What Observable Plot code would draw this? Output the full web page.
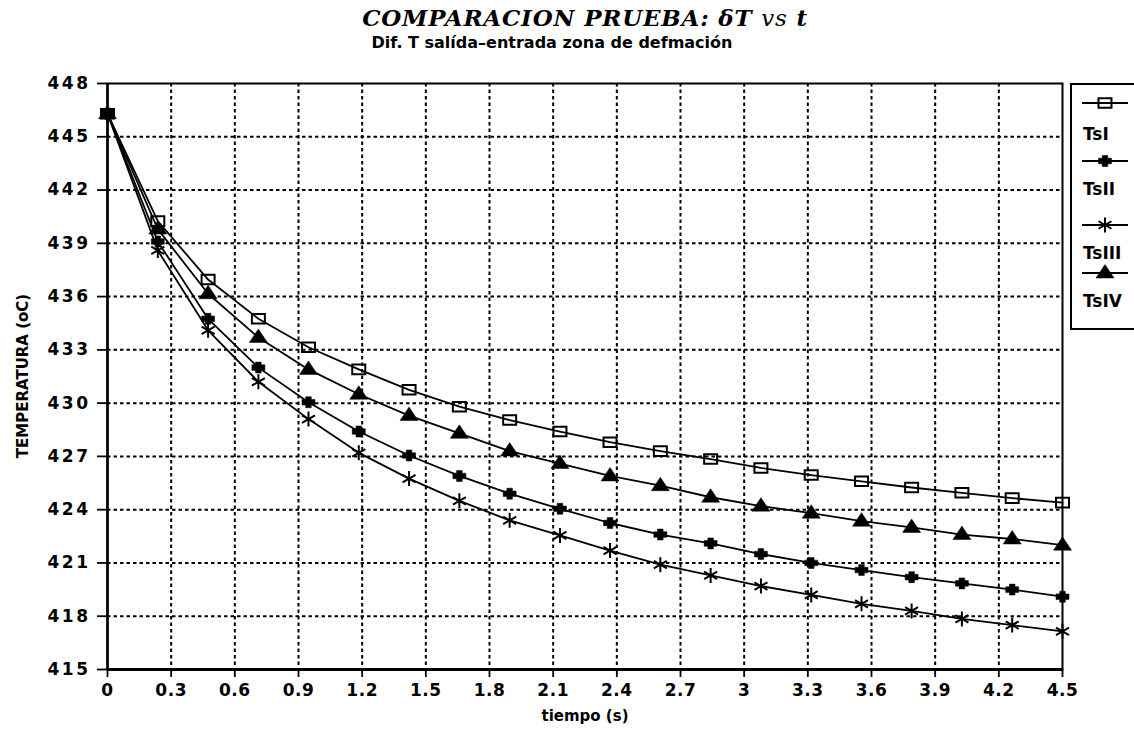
<!DOCTYPE html>
<html>
<head>
<meta charset="utf-8">
<script src="https://cdn.jsdelivr.net/npm/d3@7"></script>
<script src="https://cdn.jsdelivr.net/npm/@observablehq/plot@0.6"></script>
<style>
  body { margin: 0; background: #fff; }
  #wrap { position: relative; width: 1134px; height: 732px; overflow: hidden; background: #fff; }
  #title { position: absolute; left: 585px; top: 4px; transform: translateX(-50%); white-space: nowrap;
           font-family: "DejaVu Serif", "Liberation Serif", serif; font-weight: bold; font-style: italic;
           font-size: 23px; line-height: 27px; letter-spacing: 0.8px; color: #000; }
  #subtitle { position: absolute; left: 552px; top: 34px; transform: translateX(-50%); white-space: nowrap;
           font-family: "DejaVu Sans", sans-serif; font-weight: bold; font-size: 16px; line-height: 18px; color: #000; }
  #ylab { position: absolute; left: 23px; top: 376px; transform: translate(-50%, -50%) rotate(-90deg); white-space: nowrap;
           font-family: "DejaVu Sans", sans-serif; font-weight: bold; font-size: 15px; line-height: 17px; color: #000; }
  #xlab { position: absolute; left: 585px; top: 708px; transform: translateX(-50%); white-space: nowrap;
           font-family: "DejaVu Sans", sans-serif; font-weight: bold; font-size: 15px; line-height: 17px; color: #000; }
  #chart { position: absolute; left: 0; top: 60px; }
  #legend { position: absolute; left: 1070px; top: 83px; }
  #chart g[aria-label="y-axis tick label"] text { letter-spacing: 2.5px; }
  #chart g[aria-label="x-axis tick label"] text { letter-spacing: 0.5px; }
</style>
</head>
<body>
<div id="wrap">
  <div id="title">COMPARACION PRUEBA: δT <span style="font-weight:normal">vs</span> t</div>
  <div id="subtitle">Dif. T salída–entrada zona de defmación</div>
  <div id="chart"></div>
  <div id="ylab">TEMPERATURA (oC)</div>
  <div id="xlab">tiempo (s)</div>
  <div id="legend"></div>
</div>
<script>
// ---- data ----
const tiempo = [0, 0.237, 0.474, 0.711, 0.947, 1.184, 1.421, 1.658, 1.895, 2.132,
                2.368, 2.605, 2.842, 3.079, 3.316, 3.553, 3.789, 4.026, 4.263, 4.5];
const TsI   = [446.3, 440.25, 436.96, 434.75, 433.15, 431.9, 430.75, 429.8, 429.05, 428.4,
               427.8, 427.3, 426.85, 426.35, 425.95, 425.6, 425.25, 424.95, 424.65, 424.4];
const TsII  = [446.3, 439.1, 434.75, 432.0, 430.05, 428.4, 427.05, 425.9, 424.9, 424.05,
               423.25, 422.6, 422.1, 421.5, 421.0, 420.6, 420.2, 419.85, 419.5, 419.1];
const TsIII = [446.3, 438.6, 434.1, 431.2, 429.1, 427.2, 425.75, 424.5, 423.4, 422.55,
               421.7, 420.9, 420.3, 419.7, 419.2, 418.7, 418.3, 417.85, 417.5, 417.15];
const TsIV  = [446.3, 439.8, 436.16, 433.7, 431.9, 430.5, 429.3, 428.3, 427.3, 426.6,
               425.9, 425.35, 424.7, 424.2, 423.8, 423.35, 423.0, 422.6, 422.35, 422.0];
const seriesNames = ["TsI", "TsII", "TsIII", "TsIV"];
const xTicks = [0, 0.3, 0.6, 0.9, 1.2, 1.5, 1.8, 2.1, 2.4, 2.7, 3, 3.3, 3.6, 3.9, 4.2, 4.5];
const yTicks = [415, 418, 421, 424, 427, 430, 433, 436, 439, 442, 445, 448];

// ---- custom marker shapes ----
const rectSym = { draw(ctx) { const w = 6.5, h = 4.8; ctx.moveTo(-w, -h); ctx.lineTo(w, -h); ctx.lineTo(w, h); ctx.lineTo(-w, h); ctx.closePath(); } };
const plusSym = { draw(ctx) {
  const a = 6.5, b = 2.8, c = 5.5;
  ctx.moveTo(-a, -b); ctx.lineTo(-b, -b); ctx.lineTo(-b, -c); ctx.lineTo(b, -c); ctx.lineTo(b, -b);
  ctx.lineTo(a, -b); ctx.lineTo(a, b); ctx.lineTo(b, b); ctx.lineTo(b, c); ctx.lineTo(-b, c);
  ctx.lineTo(-b, b); ctx.lineTo(-a, b); ctx.closePath(); } };
const starSym = { draw(ctx) {
  const r = 7.5;
  ctx.moveTo(0, -r); ctx.lineTo(0, r);
  const c = Math.cos(Math.PI/6)*r, s = Math.sin(Math.PI/6)*r;
  ctx.moveTo(-c, -s); ctx.lineTo(c, s);
  ctx.moveTo(-c, s); ctx.lineTo(c, -s); } };
const triSym = { draw(ctx) { ctx.moveTo(0, -8.5); ctx.lineTo(9, 5); ctx.lineTo(-9, 5); ctx.closePath(); } };

const series = [
  {name: "TsI",   values: TsI,   symbol: rectSym, fill: "none", sw: 2},
  {name: "TsII",  values: TsII,  symbol: plusSym, fill: "#000", sw: 0.5},
  {name: "TsIII", values: TsIII, symbol: starSym, fill: "none", sw: 2},
  {name: "TsIV",  values: TsIV,  symbol: triSym,  fill: "#000", sw: 0.5}
];
const rows = series.flatMap(s => tiempo.map((t, i) => ({serie: s.name, t, v: s.values[i]})));

const dashed = {stroke: "#000", strokeOpacity: 1, strokeWidth: 2, strokeDasharray: "3.5,3"};

const marks = [
  Plot.gridX(xTicks.slice(1, -1), dashed),
  Plot.gridY(yTicks.slice(1, -1), dashed),
  Plot.frame({stroke: "#000", strokeWidth: 2}),
  Plot.ruleY([415], {stroke: "#000", strokeWidth: 3}),
  Plot.ruleX([0], {stroke: "#000", strokeWidth: 2.5}),
  Plot.axisX(xTicks, {tickSize: 8, tickPadding: 6, fontSize: 17, fontWeight: "bold",
                      tickFormat: d => String(d), label: null, strokeWidth: 1.8}),
  Plot.axisY(yTicks, {tickSize: 10, tickPadding: 7, fontSize: 17, fontWeight: "bold",
                      label: null, strokeWidth: 1.8})
];
for (const s of series) {
  const d = rows.filter(r => r.serie === s.name);
  marks.push(Plot.line(d, {x: "t", y: "v", stroke: "#000", strokeWidth: 1.8}));
}
for (const s of series) {
  const d = rows.filter(r => r.serie === s.name);
  marks.push(Plot.dot(d, {x: "t", y: "v", symbol: () => s.symbol, r: 5, fill: s.fill, stroke: "#000", strokeWidth: s.sw}));
}

const chart = Plot.plot({
  width: 1134, height: 672,
  marginTop: 23, marginBottom: 63, marginLeft: 107, marginRight: 72,
  x: {domain: [0, 4.5]},
  y: {domain: [415, 448]},
  symbol: {type: "identity"},
  style: {fontFamily: "DejaVu Sans, sans-serif", color: "#000", background: "transparent", overflow: "visible"},
  marks
});
document.getElementById("chart").appendChild(chart);

// ---- legend ----
const lg = d3.select("#legend").append("svg").attr("width", 64).attr("height", 247).style("overflow", "visible");
lg.append("rect").attr("x", 1).attr("y", 1).attr("width", 80).attr("height", 245)
  .attr("fill", "#fff").attr("stroke", "#000").attr("stroke-width", 2);
const lineY = [20, 78, 142, 190], textY = [57, 112, 176, 224];
series.forEach((s, i) => {
  lg.append("line").attr("x1", 12).attr("x2", 58).attr("y1", lineY[i]).attr("y2", lineY[i]).attr("stroke", "#000").attr("stroke-width", 1.8);
  lg.append("path").attr("d", d3.symbol(s.symbol)()).attr("transform", `translate(35,${lineY[i]})`)
    .attr("fill", s.fill).attr("stroke", "#000").attr("stroke-width", s.sw);
  lg.append("text").attr("x", 13).attr("y", textY[i]).text(s.name)
    .attr("font-family", "DejaVu Sans, sans-serif").attr("font-weight", "bold").attr("font-size", 17);
});
</script>
</body>
</html>
